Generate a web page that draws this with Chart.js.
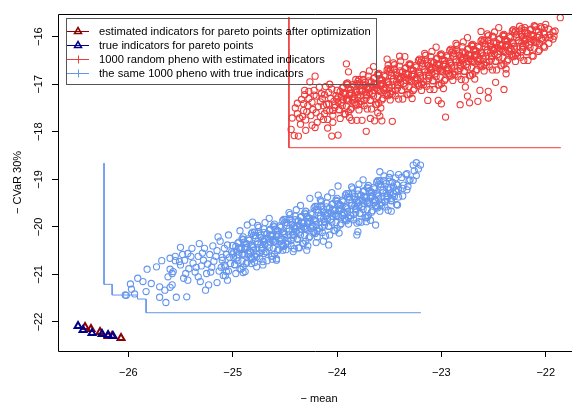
<!DOCTYPE html>
<html>
<head>
<meta charset="utf-8">
<script src="https://cdn.jsdelivr.net/npm/chart.js@4.4.1/dist/chart.umd.min.js"></script>
<style>
  html, body { margin: 0; padding: 0; background: #ffffff; }
  #wrap { width: 572px; height: 405px; }
</style>
</head>
<body>
<div id="wrap"><canvas id="c" width="572" height="405"></canvas></div>
<script>
// Axis tick positions
const xTicks = [-26, -25, -24, -23, -22];
const yTicks = [-22, -21, -20, -19, -18, -17, -16];

// Legend entries
const legendLabels = [
  'estimated indicators for pareto points after optimization',
  'true indicators for pareto points',
  '1000 random pheno with estimated indicators',
  'the same 1000 pheno with true indicators'
];

// Pareto points: estimated indicators after optimization
const paretoEst = [[-26.415,-22.105],[-26.358,-22.147],[-26.271,-22.210],[-26.194,-22.294],[-26.156,-22.294],[-26.070,-22.336]];
// Pareto points: true indicators
const paretoTrue = [[-26.482,-22.084],[-26.434,-22.168],[-26.348,-22.231],[-26.252,-22.252],[-26.194,-22.273],[-26.147,-22.294]];

// Staircase outlines
const stepEst = [[-24.461,-15.592],[-24.461,-18.335],[-21.855,-18.335]];
const stepTrue = [[-26.233,-18.660],[-26.233,-21.208],[-26.155,-21.208],[-26.155,-21.433],[-25.912,-21.433],[-25.912,-21.517],[-25.830,-21.517],[-25.830,-21.805],[-23.196,-21.805]];

// 1000 random pheno, estimated indicators (mean, CVaR)
const phenoEstSpread = [
[-24.37,-18.09],[-24.30,-17.97],[-24.43,-17.71],[-24.36,-17.71],[-24.21,-17.91],[-24.19,-17.80],[-24.13,-17.74],[-24.04,-17.80],
[-24.05,-18.09],[-23.99,-18.07],[-23.72,-17.99],[-23.47,-17.78],[-24.32,-17.41],[-24.32,-17.55],[-24.29,-17.58],[-24.23,-17.53],
[-24.31,-17.13],[-24.31,-17.22],[-24.22,-17.13],[-24.22,-17.23],[-24.26,-16.95],[-24.21,-16.83],[-24.15,-17.20],[-24.12,-17.22],
[-24.16,-17.37],[-24.08,-17.41],[-24.02,-17.44],[-24.10,-17.55],[-24.04,-17.55],[-23.91,-16.57],[-23.89,-16.74],[-23.89,-17.58],
[-23.86,-17.76],[-23.81,-17.76],[-23.76,-17.76],[-23.68,-17.72],[-23.64,-17.77],[-23.57,-17.77],[-23.61,-17.60],[-23.59,-17.67],
[-23.52,-16.47],[-23.51,-16.60],[-23.40,-16.41],[-23.81,-16.99],[-23.78,-17.13],
[-21.86,-15.60],[-22.96,-17.69],[-22.82,-17.43],[-22.73,-17.39],[-22.65,-17.36],[-22.55,-17.29],[-22.55,-17.15],[-22.40,-17.11],
[-22.48,-16.96],[-22.38,-16.78],[-22.63,-17.13],[-22.75,-17.25],[-22.77,-17.06],[-23.00,-17.41],[-23.03,-17.34],[-23.13,-17.34],
[-22.62,-15.89],[-22.51,-15.99],[-22.23,-15.83],[-22.20,-15.87],[-22.01,-15.81],[-21.97,-15.84],[-21.93,-15.90],[-21.92,-15.99],
[-22.06,-16.14],[-21.96,-16.02],[-22.00,-16.02],
[-24.40,-17.50],[-24.38,-17.62],[-24.33,-17.68],[-24.28,-17.45],[-24.25,-17.66],[-24.24,-17.38],[-24.20,-17.60],[-24.18,-17.47],
[-24.14,-17.30],[-24.12,-17.62],[-24.17,-17.06],[-24.27,-17.30],[-24.44,-17.95],[-24.41,-18.08],
[-24.38,-17.40],[-24.35,-17.84],[-24.30,-17.75],[-24.27,-17.15],[-24.24,-17.86],[-24.20,-17.25],[-24.16,-17.68],[-24.13,-17.45],
[-24.11,-17.05],[-24.09,-17.92],[-24.07,-17.00],[-24.34,-17.32]
];
const phenoEstCore = [
[-24.09,-17.74],[-24.04,-17.65],[-24.07,-17.56],[-24.02,-17.49],[-24.10,-17.42],[-24.03,-17.36],[-24.06,-17.30],[-24.01,-17.24],[-24.08,-17.17],[-24.05,-17.10],
[-23.92,-17.63],[-23.98,-17.53],[-23.95,-17.45],[-23.99,-17.38],[-23.91,-17.31],[-23.96,-17.25],[-23.93,-17.19],[-24.00,-17.13],[-23.94,-17.06],[-23.91,-16.99],[-23.97,-17.72],
[-23.87,-17.53],[-23.81,-17.44],[-23.90,-17.33],[-23.84,-17.26],[-23.86,-17.19],[-23.82,-17.14],[-23.89,-17.08],[-23.85,-17.01],[-23.80,-16.94],[-23.88,-17.70],[-23.83,-17.39],[-23.87,-17.11],
[-23.79,-17.54],[-23.74,-17.45],[-23.77,-17.36],[-23.72,-17.29],[-23.80,-17.22],[-23.73,-17.16],[-23.76,-17.10],[-23.71,-17.04],[-23.78,-16.97],[-23.75,-16.90],[-23.70,-16.83],[-23.79,-17.41],[-23.73,-17.01],
[-23.62,-17.43],[-23.68,-17.33],[-23.65,-17.25],[-23.69,-17.18],[-23.61,-17.11],[-23.66,-17.05],[-23.63,-16.99],[-23.70,-16.93],[-23.64,-16.86],[-23.61,-16.79],[-23.67,-17.52],[-23.62,-17.08],[-23.69,-16.72],[-23.65,-16.63],
[-23.57,-17.33],[-23.51,-17.24],[-23.60,-17.13],[-23.54,-17.06],[-23.56,-16.99],[-23.52,-16.94],[-23.59,-16.88],[-23.55,-16.81],[-23.50,-16.74],[-23.58,-17.50],[-23.53,-17.19],[-23.57,-16.91],[-23.51,-16.67],[-23.60,-17.40],
[-23.49,-17.33],[-23.44,-17.24],[-23.47,-17.15],[-23.42,-17.08],[-23.50,-17.01],[-23.43,-16.95],[-23.46,-16.89],[-23.41,-16.83],[-23.48,-16.76],[-23.45,-16.69],[-23.40,-16.62],[-23.49,-17.20],[-23.43,-16.80],[-23.46,-16.55],
[-23.32,-17.22],[-23.38,-17.12],[-23.35,-17.04],[-23.39,-16.97],[-23.31,-16.90],[-23.36,-16.84],[-23.33,-16.78],[-23.40,-16.72],[-23.34,-16.65],[-23.31,-16.58],[-23.37,-17.31],[-23.32,-16.87],[-23.39,-16.51],[-23.35,-16.42],
[-23.27,-17.13],[-23.21,-17.04],[-23.30,-16.93],[-23.24,-16.86],[-23.26,-16.79],[-23.22,-16.74],[-23.29,-16.68],[-23.25,-16.61],[-23.20,-16.54],[-23.28,-17.30],[-23.23,-16.99],[-23.27,-16.71],[-23.21,-16.47],[-23.30,-17.20],
[-23.19,-17.13],[-23.14,-17.04],[-23.17,-16.95],[-23.12,-16.88],[-23.20,-16.81],[-23.13,-16.75],[-23.16,-16.69],[-23.11,-16.63],[-23.18,-16.56],[-23.15,-16.49],[-23.10,-16.42],[-23.19,-17.00],[-23.13,-16.60],[-23.16,-16.35],
[-23.02,-17.02],[-23.08,-16.92],[-23.05,-16.84],[-23.09,-16.77],[-23.01,-16.70],[-23.06,-16.64],[-23.03,-16.58],[-23.10,-16.52],[-23.04,-16.45],[-23.01,-16.38],[-23.07,-17.11],[-23.02,-16.67],[-23.09,-16.31],[-23.05,-16.22],
[-22.97,-16.92],[-22.91,-16.83],[-23.00,-16.72],[-22.94,-16.65],[-22.96,-16.58],[-22.92,-16.53],[-22.99,-16.47],[-22.95,-16.40],[-22.90,-16.33],[-22.98,-17.09],[-22.93,-16.78],[-22.97,-16.50],[-22.91,-16.26],[-23.00,-16.99],
[-22.89,-16.92],[-22.84,-16.83],[-22.87,-16.74],[-22.82,-16.67],[-22.90,-16.60],[-22.83,-16.54],[-22.86,-16.48],[-22.81,-16.42],[-22.88,-16.35],[-22.85,-16.28],[-22.80,-16.21],[-22.89,-16.79],[-22.83,-16.39],[-22.86,-16.14],
[-22.72,-16.82],[-22.78,-16.72],[-22.75,-16.64],[-22.79,-16.57],[-22.71,-16.50],[-22.76,-16.44],[-22.73,-16.38],[-22.80,-16.32],[-22.74,-16.25],[-22.71,-16.18],[-22.77,-16.91],[-22.72,-16.47],[-22.79,-16.11],[-22.75,-16.02],
[-22.67,-16.72],[-22.61,-16.63],[-22.70,-16.52],[-22.64,-16.45],[-22.66,-16.38],[-22.62,-16.33],[-22.69,-16.27],[-22.65,-16.20],[-22.60,-16.13],[-22.68,-16.89],[-22.63,-16.58],[-22.67,-16.30],[-22.61,-16.06],[-22.70,-16.79],
[-22.59,-16.72],[-22.54,-16.63],[-22.57,-16.54],[-22.52,-16.47],[-22.60,-16.40],[-22.53,-16.34],[-22.56,-16.28],[-22.51,-16.22],[-22.58,-16.15],[-22.55,-16.08],[-22.50,-16.01],[-22.59,-16.59],[-22.53,-16.19],[-22.56,-15.94],
[-22.42,-16.61],[-22.48,-16.51],[-22.45,-16.43],[-22.49,-16.36],[-22.41,-16.29],[-22.46,-16.23],[-22.43,-16.17],[-22.50,-16.11],[-22.44,-16.04],[-22.41,-15.97],[-22.47,-16.70],[-22.42,-16.26],[-22.49,-15.90],[-22.45,-15.81],
[-22.37,-16.51],[-22.31,-16.42],[-22.40,-16.31],[-22.34,-16.24],[-22.36,-16.17],[-22.32,-16.12],[-22.39,-16.06],[-22.35,-15.99],[-22.30,-15.92],[-22.38,-16.68],[-22.33,-16.37],[-22.37,-16.09],[-22.31,-15.85],[-22.40,-16.58],
[-22.29,-16.52],[-22.24,-16.43],[-22.27,-16.34],[-22.22,-16.27],[-22.30,-16.20],[-22.23,-16.14],[-22.26,-16.08],[-22.21,-16.02],[-22.28,-15.95],[-22.25,-15.88],[-22.20,-15.81],[-22.29,-16.39],[-22.23,-15.99],
[-22.12,-16.41],[-22.18,-16.31],[-22.15,-16.23],[-22.19,-16.16],[-22.11,-16.09],[-22.16,-16.03],[-22.13,-15.97],[-22.20,-15.91],[-22.14,-15.84],[-22.11,-15.77],[-22.17,-16.50],[-22.12,-16.06],
[-22.07,-16.31],[-22.01,-16.22],[-22.10,-16.11],[-22.04,-16.04],[-22.06,-15.97],[-22.02,-15.92],[-22.09,-15.86],[-22.05,-15.79],[-22.00,-15.74],
[-21.97,-16.14],[-21.93,-16.05],[-21.96,-15.96],[-21.91,-15.88]
];
const phenoEstDense = [
[-23.93,-17.62],[-23.98,-17.54],[-23.91,-17.46],[-23.96,-17.39],[-23.94,-17.33],[-23.99,-17.27],[-23.92,-17.21],[-23.97,-17.15],[-23.95,-17.08],[-23.90,-17.01],[-24.00,-17.31],[-23.94,-17.18],
[-23.86,-17.50],[-23.82,-17.42],[-23.89,-17.35],[-23.83,-17.29],[-23.88,-17.23],[-23.81,-17.17],[-23.87,-17.11],[-23.84,-17.04],[-23.90,-16.97],[-23.82,-16.90],[-23.85,-17.33],[-23.88,-17.19],
[-23.71,-17.52],[-23.77,-17.42],[-23.74,-17.34],[-23.80,-17.28],[-23.72,-17.21],[-23.76,-17.15],[-23.70,-17.09],[-23.78,-17.03],[-23.73,-16.96],[-23.79,-16.90],[-23.75,-16.80],[-23.72,-17.24],
[-23.63,-17.42],[-23.68,-17.34],[-23.61,-17.26],[-23.66,-17.19],[-23.64,-17.13],[-23.69,-17.07],[-23.62,-17.01],[-23.67,-16.95],[-23.65,-16.88],[-23.60,-16.81],[-23.70,-17.11],[-23.64,-16.98],
[-23.56,-17.30],[-23.52,-17.22],[-23.59,-17.15],[-23.53,-17.09],[-23.58,-17.03],[-23.51,-16.97],[-23.57,-16.91],[-23.54,-16.84],[-23.60,-16.77],[-23.52,-16.70],[-23.55,-17.13],[-23.58,-16.99],
[-23.41,-17.31],[-23.47,-17.21],[-23.44,-17.13],[-23.50,-17.07],[-23.42,-17.00],[-23.46,-16.94],[-23.40,-16.88],[-23.48,-16.82],[-23.43,-16.75],[-23.49,-16.69],[-23.45,-16.59],[-23.42,-17.03],
[-23.33,-17.21],[-23.38,-17.13],[-23.31,-17.05],[-23.36,-16.98],[-23.34,-16.92],[-23.39,-16.86],[-23.32,-16.80],[-23.37,-16.74],[-23.35,-16.67],[-23.30,-16.60],[-23.40,-16.90],[-23.34,-16.77],
[-23.26,-17.10],[-23.22,-17.02],[-23.29,-16.95],[-23.23,-16.89],[-23.28,-16.83],[-23.21,-16.77],[-23.27,-16.71],[-23.24,-16.64],[-23.30,-16.57],[-23.22,-16.50],[-23.25,-16.93],[-23.28,-16.79],
[-23.11,-17.11],[-23.17,-17.01],[-23.14,-16.93],[-23.20,-16.87],[-23.12,-16.80],[-23.16,-16.74],[-23.10,-16.68],[-23.18,-16.62],[-23.13,-16.55],[-23.19,-16.49],[-23.15,-16.39],[-23.12,-16.83],
[-23.03,-17.01],[-23.08,-16.93],[-23.01,-16.85],[-23.06,-16.78],[-23.04,-16.72],[-23.09,-16.66],[-23.02,-16.60],[-23.07,-16.54],[-23.05,-16.47],[-23.00,-16.40],[-23.10,-16.70],[-23.04,-16.57],
[-22.96,-16.89],[-22.92,-16.81],[-22.99,-16.74],[-22.93,-16.68],[-22.98,-16.62],[-22.91,-16.56],[-22.97,-16.50],[-22.94,-16.43],[-23.00,-16.36],[-22.92,-16.29],[-22.95,-16.72],[-22.98,-16.58],
[-22.81,-16.90],[-22.87,-16.80],[-22.84,-16.72],[-22.90,-16.66],[-22.82,-16.59],[-22.86,-16.53],[-22.80,-16.47],[-22.88,-16.41],[-22.83,-16.34],[-22.89,-16.28],[-22.85,-16.18],[-22.82,-16.62],
[-22.73,-16.81],[-22.78,-16.73],[-22.71,-16.65],[-22.76,-16.58],[-22.74,-16.52],[-22.79,-16.46],[-22.72,-16.40],[-22.77,-16.34],[-22.75,-16.27],[-22.70,-16.20],[-22.80,-16.50],[-22.74,-16.37],
[-22.66,-16.69],[-22.62,-16.61],[-22.69,-16.54],[-22.63,-16.48],[-22.68,-16.42],[-22.61,-16.36],[-22.67,-16.30],[-22.64,-16.23],[-22.70,-16.16],[-22.62,-16.09],[-22.65,-16.52],[-22.68,-16.38],
[-22.51,-16.70],[-22.57,-16.60],[-22.54,-16.52],[-22.60,-16.46],[-22.52,-16.39],[-22.56,-16.33],[-22.50,-16.27],[-22.58,-16.21],[-22.53,-16.14],[-22.59,-16.08],[-22.55,-15.98],[-22.52,-16.42],
[-22.43,-16.60],[-22.48,-16.52],[-22.41,-16.44],[-22.46,-16.37],[-22.44,-16.31],[-22.49,-16.25],[-22.42,-16.19],[-22.47,-16.13],[-22.45,-16.06],[-22.40,-15.99],[-22.50,-16.29],[-22.44,-16.16],
[-22.36,-16.48],[-22.32,-16.40],[-22.39,-16.33],[-22.33,-16.27],[-22.38,-16.21],[-22.31,-16.15],[-22.37,-16.09],[-22.34,-16.02],[-22.40,-15.95],[-22.32,-15.88],[-22.35,-16.31],[-22.38,-16.17],
[-22.21,-16.50],[-22.27,-16.40],[-22.24,-16.32],[-22.30,-16.26],[-22.22,-16.19],[-22.26,-16.13],[-22.20,-16.07],[-22.28,-16.01],[-22.23,-15.94],[-22.29,-15.88],[-22.25,-15.78],[-22.22,-16.22],
[-22.13,-16.40],[-22.18,-16.32],[-22.11,-16.24],[-22.16,-16.17],[-22.14,-16.11],[-22.19,-16.05],[-22.12,-15.99],[-22.17,-15.93],[-22.15,-15.86],[-22.10,-15.79],[-22.20,-16.09],[-22.14,-15.96],
[-22.06,-16.28],[-22.02,-16.20],[-22.09,-16.13],[-22.03,-16.07],[-22.08,-16.01],[-22.01,-15.95],[-22.07,-15.89],[-22.04,-15.82]
];

// The same 1000 pheno, true indicators (mean, CVaR)
const phenoTrueSpread = [
[-26.03,-21.43],[-26.02,-21.44],[-25.94,-21.41],[-25.97,-21.31],[-25.98,-21.20],[-25.91,-21.08],[-25.86,-21.15],[-25.83,-21.36],
[-25.82,-20.89],[-25.73,-20.84],[-25.78,-21.19],[-25.70,-21.26],[-25.65,-21.33],[-25.70,-21.48],[-25.64,-21.59],[-25.60,-21.27],
[-25.58,-21.22],[-25.68,-20.71],[-25.62,-21.05],[-25.58,-20.98],[-25.57,-20.94],[-25.60,-20.89],[-25.60,-20.66],[-25.55,-20.71],
[-25.51,-20.73],[-25.54,-21.48],[-25.44,-21.47],[-25.50,-20.43],[-25.47,-21.08],[-25.43,-21.12],[-25.39,-20.45],[-25.43,-20.56],
[-25.32,-20.35],[-25.33,-21.05],[-25.31,-21.15],[-25.26,-21.33],[-25.23,-21.22],[-25.15,-21.17],[-25.07,-21.03],[-25.06,-20.94],
[-24.90,-20.96],[-24.82,-20.77],[-24.77,-20.84],[-24.71,-20.80],
[-25.55,-20.62],[-25.50,-20.80],[-25.46,-20.70],[-25.42,-20.88],[-25.38,-20.76],[-25.36,-20.95],[-25.33,-20.62],[-25.30,-20.82],
[-25.28,-20.70],[-25.25,-20.98],[-25.22,-20.58],[-25.20,-20.85],[-25.18,-20.72],[-25.15,-20.50],[-25.13,-20.93],[-25.10,-20.64],
[-25.08,-20.80],[-25.27,-20.45],[-25.19,-20.40],[-25.12,-20.30],[-25.14,-20.21],[-25.04,-20.17],[-24.86,-19.96],[-24.81,-19.90],[-24.93,-20.08],
[-25.45,-20.98],[-25.40,-20.62],[-25.35,-20.85],[-25.29,-20.55],[-25.24,-20.78],[-25.21,-20.95],[-25.16,-20.62],[-25.11,-20.85],[-25.05,-21.12],[-25.48,-20.58],
[-23.20,-18.70],[-23.24,-18.65],[-23.27,-18.70],[-23.30,-19.01],[-23.33,-18.88],[-23.49,-18.88],[-23.59,-18.84],[-23.37,-19.19],
[-23.43,-19.26],[-23.48,-19.40],[-23.54,-19.47],[-23.48,-19.67],[-23.63,-19.96],[-23.71,-19.79],[-23.72,-19.89],[-23.79,-19.89],
[-23.81,-20.17],[-23.80,-20.10],[-24.08,-20.38],[-24.13,-20.30],[-24.20,-20.33],[-24.29,-20.49],[-24.36,-20.44],[-24.42,-20.52],
[-24.52,-20.49],[-24.62,-20.68],[-24.58,-20.70],[-24.70,-20.56],[-23.99,-19.14],[-24.26,-19.40],[-24.18,-19.33]
];
const phenoTrueCore = [
[-25.09,-21.02],[-25.04,-20.93],[-25.07,-20.84],[-25.02,-20.77],[-25.10,-20.70],[-25.03,-20.64],[-25.06,-20.58],[-25.01,-20.52],[-25.08,-20.45],[-25.05,-20.38],
[-24.92,-20.89],[-24.98,-20.79],[-24.95,-20.71],[-24.99,-20.64],[-24.91,-20.57],[-24.96,-20.51],[-24.93,-20.45],[-25.00,-20.39],[-24.94,-20.32],[-24.91,-20.25],[-24.97,-20.98],
[-24.87,-20.77],[-24.81,-20.68],[-24.90,-20.57],[-24.84,-20.50],[-24.86,-20.43],[-24.82,-20.38],[-24.89,-20.32],[-24.85,-20.25],[-24.80,-20.18],[-24.88,-20.94],[-24.83,-20.63],[-24.87,-20.35],[-24.81,-20.11],[-24.90,-20.84],
[-24.79,-20.75],[-24.74,-20.66],[-24.77,-20.57],[-24.72,-20.50],[-24.80,-20.43],[-24.73,-20.37],[-24.76,-20.31],[-24.71,-20.25],[-24.78,-20.18],[-24.75,-20.11],[-24.70,-20.04],[-24.79,-20.62],[-24.73,-20.22],[-24.76,-19.97],
[-24.62,-20.62],[-24.68,-20.52],[-24.65,-20.44],[-24.69,-20.37],[-24.61,-20.30],[-24.66,-20.24],[-24.63,-20.18],[-24.70,-20.12],[-24.64,-20.05],[-24.61,-19.98],[-24.67,-20.71],[-24.62,-20.27],[-24.69,-19.91],[-24.65,-19.82],
[-24.57,-20.50],[-24.51,-20.41],[-24.60,-20.30],[-24.54,-20.23],[-24.56,-20.16],[-24.52,-20.11],[-24.59,-20.05],[-24.55,-19.98],[-24.50,-19.91],[-24.58,-20.67],[-24.53,-20.36],[-24.57,-20.08],[-24.51,-19.84],[-24.60,-20.57],
[-24.49,-20.48],[-24.44,-20.39],[-24.47,-20.30],[-24.42,-20.23],[-24.50,-20.16],[-24.43,-20.10],[-24.46,-20.04],[-24.41,-19.98],[-24.48,-19.91],[-24.45,-19.84],[-24.40,-19.77],[-24.49,-20.35],[-24.43,-19.95],[-24.46,-19.70],
[-24.32,-20.35],[-24.38,-20.25],[-24.35,-20.17],[-24.39,-20.10],[-24.31,-20.03],[-24.36,-19.97],[-24.33,-19.91],[-24.40,-19.85],[-24.34,-19.78],[-24.31,-19.71],[-24.37,-20.44],[-24.32,-20.00],[-24.39,-19.64],[-24.35,-19.55],
[-24.27,-20.23],[-24.21,-20.14],[-24.30,-20.03],[-24.24,-19.96],[-24.26,-19.89],[-24.22,-19.84],[-24.29,-19.78],[-24.25,-19.71],[-24.20,-19.64],[-24.28,-20.40],[-24.23,-20.09],[-24.27,-19.81],[-24.21,-19.57],[-24.30,-20.30],
[-24.19,-20.21],[-24.14,-20.12],[-24.17,-20.03],[-24.12,-19.96],[-24.20,-19.89],[-24.13,-19.83],[-24.16,-19.77],[-24.11,-19.71],[-24.18,-19.64],[-24.15,-19.57],[-24.10,-19.50],[-24.19,-20.08],[-24.13,-19.68],[-24.16,-19.43],
[-24.02,-20.08],[-24.08,-19.98],[-24.05,-19.90],[-24.09,-19.83],[-24.01,-19.76],[-24.06,-19.70],[-24.03,-19.64],[-24.10,-19.58],[-24.04,-19.51],[-24.01,-19.44],[-24.07,-20.17],[-24.02,-19.73],[-24.09,-19.37],[-24.05,-19.28],
[-23.97,-19.96],[-23.91,-19.87],[-24.00,-19.76],[-23.94,-19.69],[-23.96,-19.62],[-23.92,-19.57],[-23.99,-19.51],[-23.95,-19.44],[-23.90,-19.37],[-23.98,-20.13],[-23.93,-19.82],[-23.97,-19.54],[-23.91,-19.30],[-24.00,-20.03],
[-23.89,-19.94],[-23.84,-19.85],[-23.87,-19.76],[-23.82,-19.69],[-23.90,-19.62],[-23.83,-19.56],[-23.86,-19.50],[-23.81,-19.44],[-23.88,-19.37],[-23.85,-19.30],[-23.80,-19.23],[-23.89,-19.81],[-23.83,-19.41],[-23.86,-19.16],
[-23.72,-19.81],[-23.78,-19.71],[-23.75,-19.63],[-23.79,-19.56],[-23.71,-19.49],[-23.76,-19.43],[-23.73,-19.37],[-23.80,-19.31],[-23.74,-19.24],[-23.71,-19.17],[-23.77,-19.90],[-23.72,-19.46],[-23.79,-19.10],[-23.75,-19.01],
[-23.67,-19.69],[-23.61,-19.60],[-23.70,-19.49],[-23.64,-19.42],[-23.66,-19.35],[-23.62,-19.30],[-23.69,-19.24],[-23.65,-19.17],[-23.60,-19.10],[-23.68,-19.86],[-23.63,-19.55],[-23.67,-19.27],[-23.61,-19.03],[-23.70,-19.76],
[-23.59,-19.67],[-23.54,-19.58],[-23.57,-19.49],[-23.52,-19.42],[-23.60,-19.35],[-23.53,-19.29],[-23.56,-19.23],[-23.51,-19.17],[-23.58,-19.10],[-23.55,-19.03],[-23.50,-18.96],[-23.59,-19.54],
[-23.42,-19.54],[-23.48,-19.44],[-23.45,-19.36],[-23.49,-19.29],[-23.41,-19.22],[-23.46,-19.16],[-23.43,-19.10],[-23.50,-19.04],[-23.44,-18.97],[-23.41,-18.90],
[-23.37,-19.35],[-23.33,-19.22],[-23.36,-19.12],[-23.31,-19.03],[-23.38,-18.96],[-23.34,-18.90],[-23.32,-19.15],
[-23.27,-19.02],[-23.24,-18.92],[-23.26,-18.82],[-23.22,-18.78]
];
const phenoTrueDense = [
[-24.93,-20.88],[-24.98,-20.80],[-24.91,-20.72],[-24.96,-20.65],[-24.94,-20.59],[-24.99,-20.53],[-24.92,-20.47],[-24.97,-20.41],[-24.95,-20.34],[-24.90,-20.27],[-25.00,-20.57],[-24.94,-20.44],
[-24.86,-20.74],[-24.82,-20.66],[-24.89,-20.59],[-24.83,-20.53],[-24.88,-20.47],[-24.81,-20.41],[-24.87,-20.35],[-24.84,-20.28],[-24.90,-20.21],[-24.82,-20.14],[-24.85,-20.57],[-24.88,-20.43],
[-24.71,-20.73],[-24.77,-20.63],[-24.74,-20.55],[-24.80,-20.49],[-24.72,-20.42],[-24.76,-20.36],[-24.70,-20.30],[-24.78,-20.24],[-24.73,-20.17],[-24.79,-20.11],[-24.75,-20.01],[-24.72,-20.45],
[-24.63,-20.61],[-24.68,-20.53],[-24.61,-20.45],[-24.66,-20.38],[-24.64,-20.32],[-24.69,-20.26],[-24.62,-20.20],[-24.67,-20.14],[-24.65,-20.07],[-24.60,-20.00],[-24.70,-20.30],[-24.64,-20.17],
[-24.56,-20.47],[-24.52,-20.39],[-24.59,-20.32],[-24.53,-20.26],[-24.58,-20.20],[-24.51,-20.14],[-24.57,-20.08],[-24.54,-20.01],[-24.60,-19.94],[-24.52,-19.87],[-24.55,-20.30],[-24.58,-20.16],
[-24.41,-20.46],[-24.47,-20.36],[-24.44,-20.28],[-24.50,-20.22],[-24.42,-20.15],[-24.46,-20.09],[-24.40,-20.03],[-24.48,-19.97],[-24.43,-19.90],[-24.49,-19.84],[-24.45,-19.74],[-24.42,-20.18],
[-24.33,-20.34],[-24.38,-20.26],[-24.31,-20.18],[-24.36,-20.11],[-24.34,-20.05],[-24.39,-19.99],[-24.32,-19.93],[-24.37,-19.87],[-24.35,-19.80],[-24.30,-19.73],[-24.40,-20.03],[-24.34,-19.90],
[-24.26,-20.20],[-24.22,-20.12],[-24.29,-20.05],[-24.23,-19.99],[-24.28,-19.93],[-24.21,-19.87],[-24.27,-19.81],[-24.24,-19.74],[-24.30,-19.67],[-24.22,-19.60],[-24.25,-20.03],[-24.28,-19.89],
[-24.11,-20.19],[-24.17,-20.09],[-24.14,-20.01],[-24.20,-19.95],[-24.12,-19.88],[-24.16,-19.82],[-24.10,-19.76],[-24.18,-19.70],[-24.13,-19.63],[-24.19,-19.57],[-24.15,-19.47],[-24.12,-19.91],
[-24.03,-20.07],[-24.08,-19.99],[-24.01,-19.91],[-24.06,-19.84],[-24.04,-19.78],[-24.09,-19.72],[-24.02,-19.66],[-24.07,-19.60],[-24.05,-19.53],[-24.00,-19.46],[-24.10,-19.76],[-24.04,-19.63],
[-23.96,-19.93],[-23.92,-19.85],[-23.99,-19.78],[-23.93,-19.72],[-23.98,-19.66],[-23.91,-19.60],[-23.97,-19.54],[-23.94,-19.47],[-24.00,-19.40],[-23.92,-19.33],[-23.95,-19.76],[-23.98,-19.62],
[-23.81,-19.92],[-23.87,-19.82],[-23.84,-19.74],[-23.90,-19.68],[-23.82,-19.61],[-23.86,-19.55],[-23.80,-19.49],[-23.88,-19.43],[-23.83,-19.36],[-23.89,-19.30],[-23.85,-19.20],[-23.82,-19.64],
[-23.73,-19.80],[-23.78,-19.72],[-23.71,-19.64],[-23.76,-19.57],[-23.74,-19.51],[-23.79,-19.45],[-23.72,-19.39],[-23.77,-19.33],[-23.75,-19.26],[-23.70,-19.19],[-23.80,-19.49],[-23.74,-19.36],
[-23.66,-19.66],[-23.62,-19.58],[-23.69,-19.51],[-23.63,-19.45],[-23.68,-19.39],[-23.61,-19.33],[-23.67,-19.27],[-23.64,-19.20],[-23.70,-19.13],[-23.62,-19.06],[-23.65,-19.49],[-23.68,-19.35],
[-23.51,-19.65],[-23.57,-19.55],[-23.54,-19.47],[-23.60,-19.41],[-23.52,-19.34],[-23.56,-19.28],[-23.50,-19.22],[-23.58,-19.16],[-23.53,-19.09],[-23.59,-19.03],[-23.55,-18.93],[-23.52,-19.37],
[-23.43,-19.53],[-23.48,-19.45],[-23.41,-19.37],[-23.46,-19.30],[-23.44,-19.24],[-23.49,-19.18],[-23.42,-19.12],[-23.47,-19.06]
];

const FONT = '"Liberation Sans", Arial, Helvetica, sans-serif';
const RED = '#EE3B3B';
const BLUE = '#6495ED';
const DARKRED = '#8B0000';
const DARKBLUE = '#00008B';

const toXY = arr => arr.map(p => ({ x: p[0], y: p[1] }));
const minus = v => String(v).replace('-', '\u2212');

// Frame, rotated y labels, axis titles and the legend box
const decorations = {
  id: 'decorations',
  afterDraw(chart) {
    const { ctx, chartArea: a, scales } = chart;
    ctx.save();
    ctx.strokeStyle = '#000';
    ctx.lineWidth = 1;
    const L = Math.round(a.left) + 0.5, T = Math.round(a.top) + 0.5, B = Math.round(a.bottom) + 0.5;
    ctx.beginPath();
    ctx.moveTo(chart.width + 2, T);
    ctx.lineTo(L, T);
    ctx.lineTo(L, B);
    ctx.lineTo(chart.width + 2, B);
    ctx.stroke();

    ctx.fillStyle = '#000';
    ctx.font = '11px ' + FONT;
    ctx.textAlign = 'center';
    ctx.textBaseline = 'middle';
    yTicks.forEach(v => {
      const py = scales.y.getPixelForValue(v);
      ctx.save();
      ctx.translate(39, py);
      ctx.rotate(-Math.PI / 2);
      ctx.fillText(minus(v), 0, 0);
      ctx.restore();
    });

    ctx.fillText('\u2212 mean', 319, 399);
    ctx.save();
    ctx.translate(18, (a.top + a.bottom) / 2);
    ctx.rotate(-Math.PI / 2);
    ctx.fillText('\u2212 CVaR 30%', 0, 0);
    ctx.restore();

    // legend
    const lx = 66, ly = 18, lw = 310, lh = 66;
    ctx.strokeStyle = '#555';
    ctx.strokeRect(lx + 0.5, ly + 0.5, lw, lh);
    const cols = [DARKRED, DARKBLUE, RED, BLUE];
    ctx.font = '11.2px ' + FONT;
    legendLabels.forEach((t, i) => {
      const y = 31 + i * 14;
      ctx.strokeStyle = cols[i];
      ctx.lineWidth = 1;
      ctx.beginPath();
      ctx.moveTo(67, y + 0.5);
      ctx.lineTo(89, y + 0.5);
      ctx.stroke();
      if (i < 2) {
        ctx.lineWidth = 1.5;
        ctx.beginPath();
        ctx.moveTo(78, y - 3.5);
        ctx.lineTo(81.5, y + 2.5);
        ctx.lineTo(74.5, y + 2.5);
        ctx.closePath();
        ctx.stroke();
      } else {
        ctx.beginPath();
        ctx.moveTo(78.5, y - 3.5);
        ctx.lineTo(78.5, y + 4.5);
        ctx.stroke();
      }
      ctx.fillStyle = '#000';
      ctx.textAlign = 'left';
      ctx.fillText(t, 99, y + 0.5);
    });
    ctx.restore();
  }
};

new Chart(document.getElementById('c'), {
  type: 'scatter',
  data: {
    datasets: [
      { data: toXY(phenoEstSpread.concat(phenoEstCore, phenoEstDense)), order: 6, pointStyle: 'circle', pointRadius: 3.1, borderWidth: 1.1,
        borderColor: RED, backgroundColor: 'rgba(0,0,0,0)' },
      { data: toXY(phenoTrueSpread.concat(phenoTrueCore, phenoTrueDense)), order: 5, pointStyle: 'circle', pointRadius: 3.1, borderWidth: 1.1,
        borderColor: BLUE, backgroundColor: 'rgba(0,0,0,0)' },
      { data: toXY(stepEst), order: 4, showLine: true, pointRadius: 0, borderWidth: 1, borderColor: RED, tension: 0 },
      { data: toXY(stepTrue), order: 3, showLine: true, pointRadius: 0, borderWidth: 1, borderColor: BLUE, tension: 0 },
      { data: toXY(paretoEst), order: 2, pointStyle: 'triangle', pointRadius: 4, borderWidth: 2,
        borderColor: DARKRED, backgroundColor: 'rgba(0,0,0,0)' },
      { data: toXY(paretoTrue), order: 1, pointStyle: 'triangle', pointRadius: 4, borderWidth: 2,
        borderColor: DARKBLUE, backgroundColor: 'rgba(0,0,0,0)' }
    ]
  },
  options: {
    responsive: false,
    animation: false,
    devicePixelRatio: 1,
    layout: { autoPadding: false, padding: { top: 14, left: 0, right: 0, bottom: 0 } },
    plugins: { legend: { display: false }, tooltip: { enabled: false } },
    scales: {
      x: {
        type: 'linear', min: -26.674, max: -21.748,
        afterBuildTicks: s => { s.ticks = xTicks.map(v => ({ value: v })); },
        afterFit: s => { s.height = 54; s.paddingLeft = 0; s.paddingRight = 0; },
        border: { display: false },
        grid: { drawOnChartArea: false, drawTicks: true, tickLength: 6, color: '#000' },
        ticks: { color: '#000', font: { size: 11, family: FONT }, padding: 9, maxRotation: 0, callback: v => minus(v) }
      },
      y: {
        type: 'linear', min: -22.61, max: -15.523,
        afterBuildTicks: s => { s.ticks = yTicks.map(v => ({ value: v })); },
        afterFit: s => { s.width = 58; s.paddingTop = 0; s.paddingBottom = 0; },
        border: { display: false },
        grid: { drawOnChartArea: false, drawTicks: true, tickLength: 6, color: '#000' },
        ticks: { display: false }
      }
    }
  },
  plugins: [decorations]
});
</script>
</body>
</html>
